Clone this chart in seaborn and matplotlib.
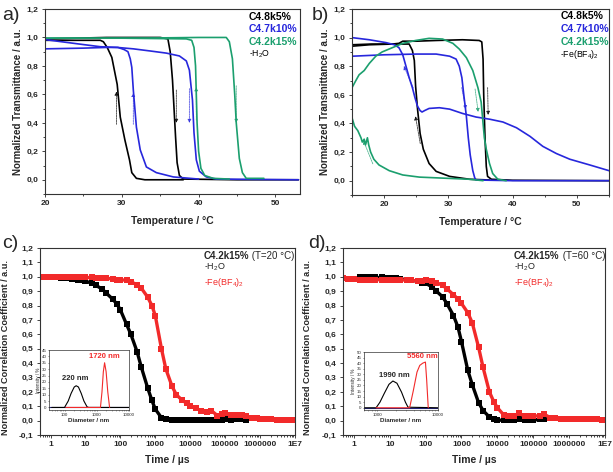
import numpy as np
import seaborn as sns
import matplotlib.pyplot as plt
from matplotlib.ticker import MultipleLocator, NullFormatter, LogLocator

BLACK = "#000000"
BLUE = "#2727dc"
GREEN = "#1b9f6e"
RED = "#f22a2a"

# ---------- a) turbidity, H2O ----------
a_k5_heat_T = [20, 24, 28, 32, 35, 36.0, 36.3, 36.6, 36.8, 37.0, 37.2, 37.5, 38.0, 45, 53]
a_k5_heat_v = [0.99, 0.995, 1.0, 1.0, 1.0, 0.99, 0.9, 0.7, 0.5, 0.3, 0.12, 0.03, 0.005, 0.0, 0.0]
a_k5_cool_T = [20, 24, 27.2, 27.6, 28.1, 28.7, 29.4, 29.8, 30.4, 31.0, 31.3, 31.9, 33, 38]
a_k5_cool_v = [0.98, 0.98, 0.98, 0.97, 0.93, 0.86, 0.67, 0.44, 0.28, 0.14, 0.05, 0.01, 0.0, 0.0]
a_k10_heat_T = [20, 25, 27.2, 29.4, 31.5, 33.7, 35.8, 37.5, 38.4, 38.8, 39.2, 39.4, 39.7, 40.1, 41.0, 42.3, 53]
a_k10_heat_v = [0.985, 0.95, 0.935, 0.93, 0.92, 0.905, 0.89, 0.87, 0.835, 0.77, 0.56, 0.33, 0.14, 0.06, 0.02, 0.005, 0.0]
a_k10_cool_T = [20, 25, 28, 29.5, 30.3, 30.8, 31.1, 31.3, 31.5, 31.9, 32.4, 33.2, 34.5, 36.7, 40]
a_k10_cool_v = [0.92, 0.925, 0.93, 0.93, 0.915, 0.9, 0.85, 0.79, 0.63, 0.37, 0.21, 0.09, 0.05, 0.02, 0.005]
a_k15_heat_T = [20, 25, 30, 35, 40, 43.6, 44.0, 44.4, 44.7, 44.9, 45.3, 45.7, 46.2, 48.5]
a_k15_heat_v = [0.995, 0.995, 0.995, 0.997, 1.0, 1.0, 0.97, 0.85, 0.6, 0.4, 0.15, 0.05, 0.01, 0.01]
a_k15_cool_T = [20, 30, 38.4, 39.1, 39.4, 39.6, 39.7, 39.8, 40.0, 40.3, 40.8, 41.9, 44]
a_k15_cool_v = [0.995, 0.995, 0.99, 0.98, 0.93, 0.8, 0.6, 0.4, 0.2, 0.08, 0.03, 0.01, 0.005]
# (colour, T start, v start, T end, v end)
a_arrows = [(BLACK, 29.3, 0.37, 29.3, 0.64), (BLUE, 31.5, 0.37, 31.5, 0.63),
            (BLACK, 37.1, 0.65, 37.1, 0.38), (BLUE, 38.8, 0.66, 38.8, 0.38),
            (GREEN, 39.7, 0.40, 39.7, 0.67), (GREEN, 44.9, 0.68, 44.9, 0.38)]

# ---------- b) turbidity, Fe(BF4)2 ----------
b_k5_cool_T = [15, 18, 21, 23.9, 24.4, 24.7, 24.9, 25.2, 25.6, 26.1, 27.0, 28.1, 30.2, 33.3, 36.4]
b_k5_cool_v = [0.95, 0.955, 0.955, 0.955, 0.91, 0.84, 0.66, 0.5, 0.33, 0.22, 0.12, 0.065, 0.03, 0.01, 0.005]
b_k5_heat_T = [15, 17.7, 21.3, 22.3, 22.9, 25, 28.1, 32.2, 34.8, 35.2, 35.4, 35.5, 35.7, 35.9, 36.1, 36.7, 40, 55]
b_k5_heat_v = [0.94, 0.95, 0.955, 0.96, 0.975, 0.975, 0.98, 0.985, 0.98, 0.97, 0.85, 0.6, 0.3, 0.1, 0.03, 0.01, 0.003, 0.0]
b_k10_long_T = [15, 17.7, 20.3, 21.6, 22.3, 22.9, 23.4, 23.9, 24.4, 24.8, 25.2, 25.6, 25.9, 26.3, 27.0,
                28.6, 30.2, 32.2, 34.3, 36.4, 38.5, 40.6, 42.7, 44.7, 46.8, 48.9, 52.0, 55.0]
b_k10_long_v = [1.0, 0.985, 0.965, 0.95, 0.93, 0.88, 0.8, 0.72, 0.65, 0.58, 0.52, 0.49, 0.48, 0.49, 0.505,
                0.51, 0.5, 0.47, 0.445, 0.43, 0.41, 0.37, 0.31, 0.24, 0.19, 0.15, 0.11, 0.07]
b_k10_short_T = [15, 20, 25, 28.1, 30.2, 31.2, 31.7, 32.1, 32.4, 32.8, 33.1, 33.4, 33.8, 34.1, 34.3, 40, 55]
b_k10_short_v = [0.87, 0.88, 0.885, 0.885, 0.87, 0.85, 0.8, 0.72, 0.6, 0.45, 0.3, 0.18, 0.07, 0.02, 0.005, 0.0, 0.0]
b_k15_long_T = [15, 15.6, 16.1, 16.9, 17.7, 18.7, 19.7, 21.3, 22.9, 24.9, 27.0, 29.1, 30.7, 31.7, 32.8,
                33.8, 34.6, 35.1, 35.4, 35.6, 35.9, 36.4, 36.9, 37.7, 39]
b_k15_long_v = [0.65, 0.7, 0.74, 0.77, 0.82, 0.87, 0.9, 0.93, 0.96, 0.98, 0.995, 0.99, 0.96, 0.92, 0.86,
                0.77, 0.65, 0.55, 0.4, 0.3, 0.22, 0.12, 0.05, 0.01, 0.0]
b_k15_short_T = [15, 15.4, 15.9, 16.4, 16.6, 16.9, 17.1, 17.4, 17.6, 17.9, 18.4, 19.2, 20.8, 22.9, 25.5,
                 28.1, 30.7, 33.3, 35.4]
b_k15_short_v = [0.44, 0.38, 0.35, 0.3, 0.27, 0.29, 0.25, 0.3, 0.25, 0.2, 0.15, 0.11, 0.07, 0.04, 0.025,
                 0.02, 0.015, 0.01, 0.0]
b_arrows = [(BLUE, 24.7, 0.63, 22.9, 0.82), (BLACK, 25.7, 0.24, 24.8, 0.47),
            (BLUE, 32.0, 0.67, 32.8, 0.48), (GREEN, 34.1, 0.66, 34.7, 0.46),
            (BLACK, 36.1, 0.67, 36.2, 0.44), (GREEN, 18.4, 0.10, 16.6, 0.30)]

# ---------- c), d) DLS correlation functions ----------
nan = np.nan
dls_time = [0.5, 0.7, 1, 1.5, 2, 3, 4, 6, 8, 10, 15, 20, 30, 40, 60, 80, 100, 150, 200, 300, 400, 600, 800,
            1e3, 1.5e3, 2e3, 3e3, 4e3, 6e3, 8e3, 1e4, 1.5e4, 2e4, 3e4, 4e4, 6e4, 8e4, 1e5, 1.5e5, 2e5, 3e5,
            4e5, 6e5, 8e5, 1e6, 1.5e6, 2e6, 3e6, 4e6, 6e6, 8e6, 1e7]
c_water = [1.0, 1.0, 1.0, 0.995, 0.99, 0.99, 0.985, 0.98, 0.975, 0.97, 0.955, 0.94, 0.915, 0.885, 0.845,
           0.81, 0.77, 0.67, 0.6, 0.48, 0.37, 0.23, 0.14, 0.08, 0.02, 0.008, 0.003, 0.004, 0.005, 0.004,
           0.005, 0.005, 0.006, 0.005, 0.005, 0.006, 0.006, 0.008, 0.007, 0.008, 0.01, 0.006,
           nan, nan, nan, nan, nan, nan, nan, nan, nan, nan]
c_fe = [1.0, 1.0, 1.0, 1.0, 1.0, 1.0, 1.0, 0.995, 0.995, 0.995, 0.995, 0.99, 0.99, 0.99, 0.985, 0.98, 0.98,
        0.975, 0.965, 0.945, 0.92, 0.86, 0.8, 0.73, 0.5, 0.36, 0.24, 0.18, 0.14, 0.12, 0.105, 0.085, 0.07,
        0.06, 0.07, 0.035, 0.045, 0.05, 0.04, 0.04, 0.04, 0.03, 0.02, 0.015, 0.012, 0.01, 0.008, 0.006,
        0.005, 0.005, 0.004, 0.004]
d_water = [nan, nan, nan, 1.0, 1.0, 1.0, 0.995, 0.995, 0.99, 0.99, 0.99, 0.985, 0.98, 0.975, 0.97, 0.96,
           0.955, 0.93, 0.9, 0.86, 0.81, 0.73, 0.65, 0.55, 0.35, 0.25, 0.125, 0.07, 0.025, 0.01, 0.004,
           0.002, 0.002, 0.004, 0.01, 0.003, 0.003, 0.004, 0.008, 0.01,
           nan, nan, nan, nan, nan, nan, nan, nan, nan, nan, nan, nan]
d_fe = [0.99, 0.985, 0.985, 0.98, 0.98, 0.98, 0.98, 0.98, 0.98, 0.98, 0.98, 0.98, 0.975, 0.975, 0.97, 0.97,
        0.975, 0.97, 0.96, 0.94, 0.915, 0.875, 0.845, 0.815, 0.75, 0.68, 0.51, 0.37, 0.2, 0.13, 0.09, 0.04,
        0.03, 0.035, 0.05, 0.03, 0.03, 0.03, 0.035, 0.045, 0.02, 0.015, 0.014, 0.013, 0.012, 0.012, 0.011,
        0.01, 0.01, 0.008, 0.007, 0.007]

# size distributions (insets)
c_dist_water_d = [40, 100, 130, 160, 200, 230, 270, 330, 400, 500, 560, 10000]
c_dist_water_i = [0, 0, 5, 11, 16, 17, 16, 11, 5, 0.5, 0, 0]
c_dist_fe_d = [110, 1300, 1450, 1600, 1750, 1950, 2200, 2500]
c_dist_fe_i = [0, 0, 12, 28, 35, 28, 12, 0]
d_dist_water_d = [600, 950, 1100, 1300, 1550, 1800, 2100, 2500, 2900, 3200, 10000]
d_dist_water_i = [0, 0, 5, 13, 21, 24, 22, 14, 5, 0.5, 0]
d_dist_fe_d = [950, 3400, 3900, 4500, 5000, 5600, 6200, 6500, 6900]
d_dist_fe_i = [0, 0, 15, 32, 38, 40, 41, 25, 0]

sns.set_theme(style="ticks")
plt.rcParams["font.family"] = ["Liberation Sans", "DejaVu Sans"]
plt.rcParams["mathtext.default"] = "regular"

W, H = 613, 472
fig = plt.figure(figsize=(W / 100, H / 100), dpi=100)


def place(l, t, r, b):
    return fig.add_axes([l / W, 1 - b / H, (r - l) / W, (b - t) / H])


def frame(ax, lw=0.8):
    for s in ax.spines.values():
        s.set_visible(True)
        s.set_color("#333333")
        s.set_linewidth(lw)


def comma(v):
    return ("%.1f" % v).replace(".", ",")


def trans_axes(ax, xlim, xt):
    frame(ax)
    ax.set_xlim(*xlim)
    ax.set_ylim(-0.1, 1.2)
    yt = [0.0, 0.2, 0.4, 0.6, 0.8, 1.0, 1.2]
    ax.set_yticks(yt, labels=[comma(v) for v in yt], fontweight="bold")
    ax.set_xticks(xt, labels=[str(v) for v in xt], fontweight="bold")
    ax.yaxis.set_minor_locator(MultipleLocator(0.1))
    ax.xaxis.set_minor_locator(MultipleLocator(5))
    ax.tick_params(which="both", direction="out", labelsize=6, width=0.6, length=2.5, pad=2)
    ax.tick_params(which="minor", length=1.5)
    ax.set_xlabel("Temperature / °C", fontsize=7.5, fontweight="bold", labelpad=6)
    ax.set_ylabel("Normalized Transmittance / a.u.", fontsize=7, fontweight="bold", labelpad=3)


def curve(ax, T, v, color):
    sns.lineplot(x=T, y=v, ax=ax, color=color, lw=1.2, sort=False, estimator=None)


def arrows(ax, items):
    for col, x0, y0, x1, y1 in items:
        ax.annotate("", xy=(x1, y1), xytext=(x0, y0),
                    arrowprops=dict(arrowstyle="-|>", color=col, lw=0.6, ls=(0, (2, 1)),
                                    mutation_scale=5, alpha=0.75))


def legend_block(ax, x, ys, solvent):
    for (txt, col), y in zip([("C4.8k5%", BLACK), ("C4.7k10%", BLUE), ("C4.2k15%", GREEN)], ys[:3]):
        ax.text(x, y, txt, color=col, fontsize=7.5, fontweight="bold", transform=ax.transAxes, va="center")
    ax.text(x, ys[3], solvent, color=BLACK, fontsize=6.3, transform=ax.transAxes, va="center")


# ----- panel a -----
ax_a = place(45, 9, 300, 194)
for T, v, col in [(a_k5_heat_T, a_k5_heat_v, BLACK), (a_k5_cool_T, a_k5_cool_v, BLACK),
                  (a_k10_heat_T, a_k10_heat_v, BLUE), (a_k10_cool_T, a_k10_cool_v, BLUE),
                  (a_k15_heat_T, a_k15_heat_v, GREEN), (a_k15_cool_T, a_k15_cool_v, GREEN)]:
    curve(ax_a, T, v, col)
arrows(ax_a, a_arrows)
trans_axes(ax_a, (20, 53.2), [20, 30, 40, 50])
legend_block(ax_a, 0.80, [0.957, 0.89, 0.822, 0.757], "-H$_2$O")

# ----- panel b -----
ax_b = place(352, 9, 609, 195)
for T, v, col in [(b_k5_cool_T, b_k5_cool_v, BLACK), (b_k5_heat_T, b_k5_heat_v, BLACK),
                  (b_k10_long_T, b_k10_long_v, BLUE), (b_k10_short_T, b_k10_short_v, BLUE),
                  (b_k15_long_T, b_k15_long_v, GREEN), (b_k15_short_T, b_k15_short_v, GREEN)]:
    curve(ax_b, T, v, col)
arrows(ax_b, b_arrows)
trans_axes(ax_b, (15, 55), [20, 30, 40, 50])
legend_block(ax_b, 0.81, [0.96, 0.89, 0.825, 0.755], "-Fe(BF$_4$)$_2$")


# ----- panels c, d -----
def dls_axes(ax, water, fe, temp_txt, tx):
    sns.lineplot(x=dls_time, y=water, ax=ax, color=BLACK, lw=2.4, marker="s", markersize=4.2,
                 markeredgewidth=0, sort=False, estimator=None)
    sns.lineplot(x=dls_time, y=fe, ax=ax, color=RED, lw=2.4, marker="s", markersize=4.2,
                 markeredgewidth=0, sort=False, estimator=None)
    frame(ax)
    ax.set_xscale("log")
    ax.set_xlim(0.5, 1e7)
    ax.set_ylim(-0.1, 1.2)
    xt = [1, 10, 100, 1000, 10000, 100000, 1000000, 1e7]
    ax.set_xticks(xt, labels=["1", "10", "100", "1000", "10000", "100000", "1000000", "1E7"],
                  fontweight="bold")
    ax.xaxis.set_minor_locator(LogLocator(base=10, subs=np.arange(2, 10)))
    ax.xaxis.set_minor_formatter(NullFormatter())
    yt = np.round(np.arange(-0.1, 1.21, 0.1), 1)
    ax.set_yticks(yt, labels=[comma(v) for v in yt], fontweight="bold")
    ax.tick_params(which="both", direction="out", labelsize=6, width=0.6, length=2.5, pad=2)
    ax.tick_params(which="minor", length=1.5)
    ax.set_xlabel("Time / µs", fontsize=7.5, fontweight="bold", labelpad=5)
    ax.set_ylabel("Normalized Correlation Coefficient / a.u.", fontsize=6.6, fontweight="bold", labelpad=3)
    ax.yaxis.set_label_coords(-0.118, 0.47)
    t1 = ax.text(tx, 0.955, "C4.2k15%", fontsize=7, fontweight="bold", transform=ax.transAxes,
                 va="center")
    ax.annotate(" " + temp_txt, xy=(1, 0.5), xycoords=t1, va="center", fontsize=7)
    ax.text(tx, 0.895, "-H$_2$O", fontsize=6.5, transform=ax.transAxes, va="center")
    ax.text(tx, 0.815, "-Fe(BF$_4$)$_2$", fontsize=6.5, color=RED, transform=ax.transAxes, va="center")


def inset(ax, xlim, xt, xtl, ymax, wd, wi, fd, fi, wlab, flab):
    ax.plot(xlim, [0, 0], color="#22227a", lw=0.8)
    sns.lineplot(x=wd, y=wi, ax=ax, color=BLACK, lw=0.8, sort=False, estimator=None)
    sns.lineplot(x=fd, y=fi, ax=ax, color=RED, lw=0.8, sort=False, estimator=None)
    frame(ax, 0.5)
    ax.set_xscale("log")
    ax.set_xlim(*xlim)
    ax.set_ylim(-2, ymax)
    ax.set_xticks(xt, labels=xtl)
    ax.xaxis.set_minor_locator(LogLocator(base=10, subs=np.arange(2, 10)))
    ax.xaxis.set_minor_formatter(NullFormatter())
    ax.set_yticks(np.arange(0, ymax + 1, 5))
    ax.tick_params(which="both", direction="out", labelsize=3.2, width=0.4, length=1.0, pad=0.8)
    ax.tick_params(which="minor", length=0.6)
    ax.set_xlabel("Diameter / nm", fontsize=4.5, fontweight="bold", labelpad=1)
    ax.set_ylabel("Intensity / %", fontsize=3.3, labelpad=0.5)
    ax.text(*wlab, fontsize=5.5, fontweight="bold", ha="center", va="bottom")
    ax.text(*flab, fontsize=5.5, fontweight="bold", color=RED, ha="center", va="bottom")


ax_c = place(40, 248, 295, 435)
dls_axes(ax_c, c_water, c_fe, "(T=20 °C)", 0.643)
in_c = place(49, 350, 129, 410)
inset(in_c, (33, 10000), [100, 1000, 10000], ["100", "1000", "10000"], 45,
      c_dist_water_d, c_dist_water_i, c_dist_fe_d, c_dist_fe_i,
      (220, 20, "220 nm"), (1720, 37, "1720 nm"))

ax_d = place(343, 248, 605, 435)
dls_axes(ax_d, d_water, d_fe, "(T=60 °C)", 0.653)
in_d = place(364, 352, 438, 410)
inset(in_d, (600, 10000), [1000, 10000], ["1000", "10000"], 50,
      d_dist_water_d, d_dist_water_i, d_dist_fe_d, d_dist_fe_i,
      (1900, 26, "1990 nm"), (5560, 43, "5560 nm"))

for lab, x, y in [("a)", 0.004, 0.985), ("b)", 0.508, 0.985), ("c)", 0.004, 0.503), ("d)", 0.503, 0.503)]:
    fig.text(x, y, lab, fontsize=14, va="top", ha="left")

fig.savefig("out.png", dpi=100)
